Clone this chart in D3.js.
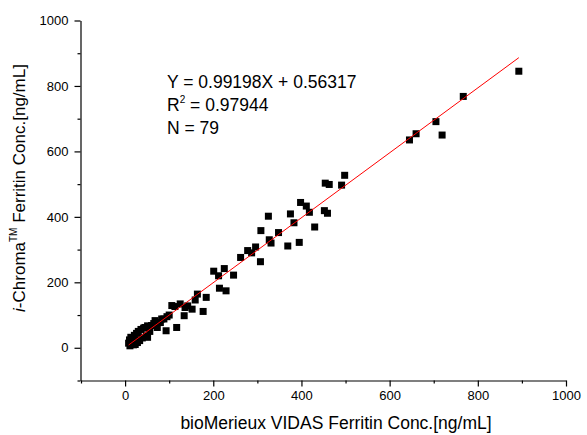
<!DOCTYPE html>
<html><head><meta charset="utf-8">
<script src="https://cdn.jsdelivr.net/npm/d3@7"></script>
<style>
html,body{margin:0;padding:0;background:#fff;}
svg{display:block;font-family:Arial,"Liberation Sans",sans-serif;}
</style></head>
<body>
<svg id="chart" width="587" height="435"></svg>
<script>
// Data: bioMerieux VIDAS (x) vs i-Chroma (y), ng/mL
const xValues = [893,767,705,719,660,645,498,454,463,491,452,459,398,411,418,375,383,430,325,348,308,327,331,395,369,296,278,287,262,307,
  201,225,212,246,214,229,164,184,159,106,125,136,152,177,134,95,83,117,93,80,68,51,45,51,
  8,10,11,13,15,17,19,21,23,26,28,30,33,36,39,42,48,56,60,65,73,88,100,113,142];
const yValues = [845,768,691,650,654,635,527,503,499,497,419,411,444,433,414,409,382,369,402,352,358,330,320,322,311,308,297,290,276,263,
  234,242,220,222,182,174,164,154,146,129,134,123,118,111,98,95,88,62,52,77,83,67,62,32,
  14,24,6,32,15,26,9,38,10,44,16,50,22,56,30,60,36,50,68,74,62,88,100,126,128];
const slope = 0.99198, intercept = 0.56317;
const xMajorTicks = [0,200,400,600,800,1000];
const xMinorTicks = [-100,100,300,500,700,900];
const yMajorTicks = [0,200,400,600,800,1000];
const yMinorTicks = [-100,100,300,500,700,900];
const fitLines = ["Y = 0.99198X + 0.56317", "R", " = 0.97944", "N = 79"];

const svg = d3.select("#chart");
const x = d3.scaleLinear().domain([-100,1000]).range([81,566]);
const y = d3.scaleLinear().domain([-100,1000]).range([380.5,20.5]);

// axes
const gx = svg.append("g").attr("transform","translate(0,380.5)");
gx.call(d3.axisBottom(x).tickValues(xMajorTicks).tickSize(6).tickPadding(4).tickSizeOuter(0).tickFormat(d3.format("d")));
const gxm = svg.append("g").attr("transform","translate(0,380.5)");
gxm.call(d3.axisBottom(x).tickValues(xMinorTicks).tickSize(3).tickSizeOuter(0).tickFormat(""));
gxm.select(".domain").remove();

const gy = svg.append("g").attr("transform","translate(80.5,0)");
gy.call(d3.axisLeft(y).tickValues(yMajorTicks).tickSize(6).tickPadding(6).tickSizeOuter(0).tickFormat(d3.format("d")));
const gym = svg.append("g").attr("transform","translate(80.5,0)");
gym.call(d3.axisLeft(y).tickValues(yMinorTicks).tickSize(3).tickSizeOuter(0).tickFormat(""));
gym.select(".domain").remove();

svg.selectAll(".domain").attr("stroke","#000").attr("stroke-width",1.2);
svg.selectAll(".tick line").attr("stroke","#000").attr("stroke-width",1.2);
svg.selectAll(".tick text").attr("font-size",13).attr("fill","#000").attr("font-family","Arial, 'Liberation Sans', sans-serif");

// points
const pts = xValues.map((v,i)=>({x:v,y:yValues[i]}));
svg.append("g").selectAll("rect").data(pts).join("rect")
  .attr("x",d=>x(d.x)-3.5).attr("y",d=>y(d.y)-3.5)
  .attr("width",7).attr("height",7).attr("fill","#000");

// fit line
const xmin = d3.min(xValues), xmax = d3.max(xValues);
svg.append("line")
  .attr("x1",x(xmin)).attr("y1",y(slope*xmin+intercept))
  .attr("x2",x(xmax)).attr("y2",y(slope*xmax+intercept))
  .attr("stroke","#ff0000").attr("stroke-width",1);

// equation text
const tg = svg.append("g").attr("font-size",17.5).attr("fill","#000");
tg.append("text").attr("x",167).attr("y",88).text(fitLines[0]);
const r = tg.append("text").attr("x",167).attr("y",111);
r.append("tspan").text(fitLines[1]);
r.append("tspan").attr("font-size",10).attr("dy",-8).text("2");
r.append("tspan").attr("dy",8).text(fitLines[2]);
tg.append("text").attr("x",167).attr("y",134).text(fitLines[3]);

// axis titles
svg.append("text").attr("x",336).attr("y",429).attr("text-anchor","middle")
  .attr("font-size",17.5).text("bioMerieux VIDAS Ferritin Conc.[ng/mL]");
const yt = svg.append("text").attr("transform","translate(25,188) rotate(-90)")
  .attr("text-anchor","middle").attr("font-size",17);
yt.append("tspan").attr("font-style","italic").text("i");
yt.append("tspan").text("-Chroma");
yt.append("tspan").attr("font-size",10).attr("dy",-8).text("TM");
yt.append("tspan").attr("dy",8).text(" Ferritin Conc.[ng/mL]");
</script>
</body></html>
